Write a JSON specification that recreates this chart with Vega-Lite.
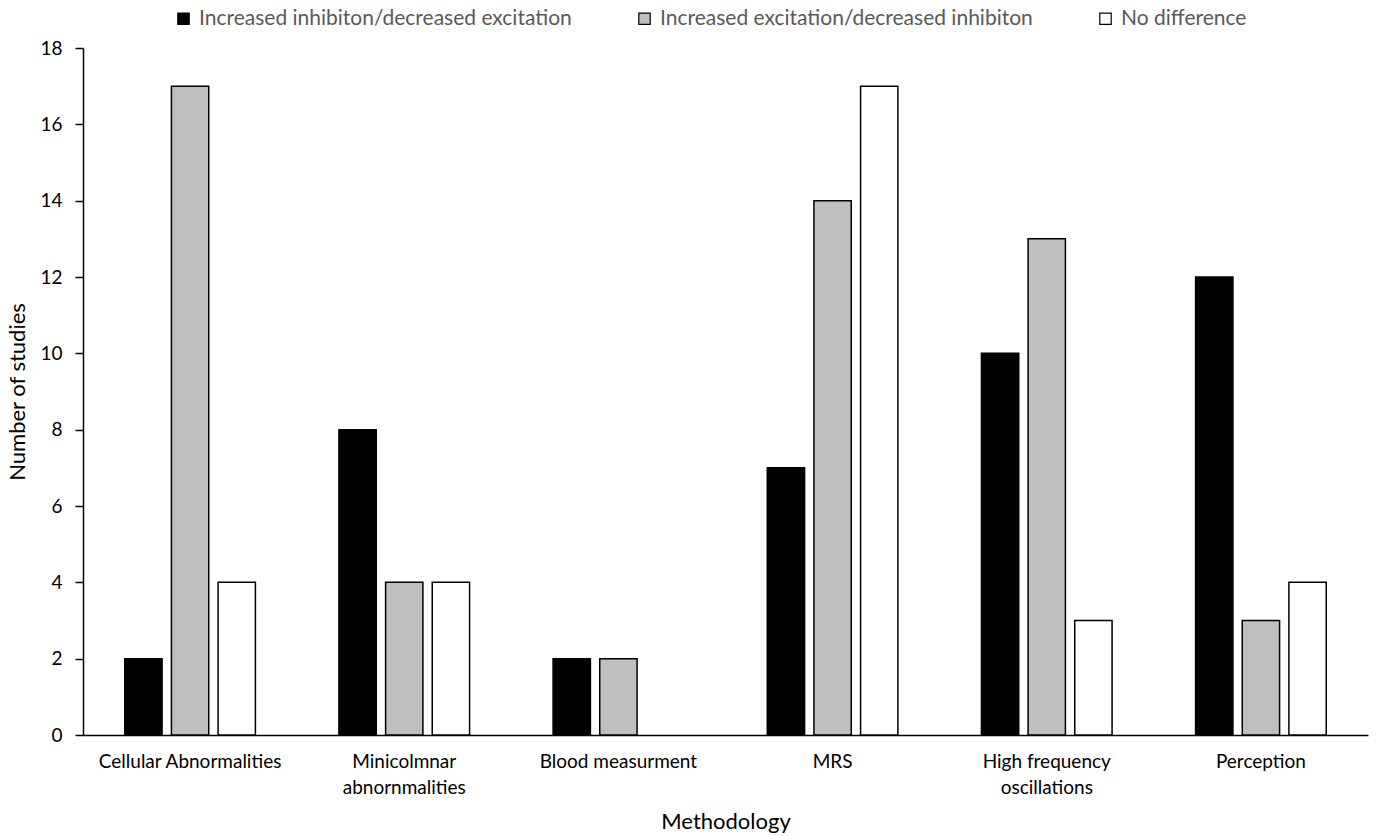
{
  "$schema": "https://vega.github.io/schema/vega-lite/v6.json",
  "width": 1285,
  "height": 687,
  "autosize": {"type": "none"},
  "padding": {"left": 83, "top": 48, "right": 9, "bottom": 101},
  "background": "white",
  "data": {
    "values": [
      {"method": "Cellular Abnormalities", "result": "Increased inhibiton/decreased excitation", "studies": 2},
      {"method": "Cellular Abnormalities", "result": "Increased excitation/decreased inhibiton", "studies": 17},
      {"method": "Cellular Abnormalities", "result": "No difference", "studies": 4},
      {"method": "Minicolmnar abnornmalities", "result": "Increased inhibiton/decreased excitation", "studies": 8},
      {"method": "Minicolmnar abnornmalities", "result": "Increased excitation/decreased inhibiton", "studies": 4},
      {"method": "Minicolmnar abnornmalities", "result": "No difference", "studies": 4},
      {"method": "Blood measurment", "result": "Increased inhibiton/decreased excitation", "studies": 2},
      {"method": "Blood measurment", "result": "Increased excitation/decreased inhibiton", "studies": 2},
      {"method": "Blood measurment", "result": "No difference", "studies": 0},
      {"method": "MRS", "result": "Increased inhibiton/decreased excitation", "studies": 7},
      {"method": "MRS", "result": "Increased excitation/decreased inhibiton", "studies": 14},
      {"method": "MRS", "result": "No difference", "studies": 17},
      {"method": "High frequency oscillations", "result": "Increased inhibiton/decreased excitation", "studies": 10},
      {"method": "High frequency oscillations", "result": "Increased excitation/decreased inhibiton", "studies": 13},
      {"method": "High frequency oscillations", "result": "No difference", "studies": 3},
      {"method": "Perception", "result": "Increased inhibiton/decreased excitation", "studies": 12},
      {"method": "Perception", "result": "Increased excitation/decreased inhibiton", "studies": 3},
      {"method": "Perception", "result": "No difference", "studies": 4}
    ]
  },
  "mark": {"type": "bar", "stroke": "black", "strokeWidth": 1.5},
  "encoding": {
    "x": {
      "field": "method",
      "type": "nominal",
      "sort": null,
      "title": "Methodology",
      "scale": {"paddingInner": 0.39, "paddingOuter": 0.195},
      "axis": {
        "labelAngle": 0,
        "ticks": false,
        "labelPadding": 17,
        "labelFont": "Lato",
        "labelFontSize": 19,
        "labelColor": "black",
        "labelLineHeight": 26,
        "labelLimit": 400,
        "labelOverlap": false,
        "labelExpr": "datum.label == 'Minicolmnar abnornmalities' ? ['Minicolmnar', 'abnornmalities'] : datum.label == 'High frequency oscillations' ? ['High frequency', 'oscillations'] : datum.label",
        "domainColor": "black",
        "domainWidth": 1.5,
        "titleFont": "Lato",
        "titleFontSize": 22,
        "titleFontWeight": "normal",
        "titleColor": "black",
        "titlePadding": 14
      }
    },
    "xOffset": {
      "field": "result",
      "type": "nominal",
      "sort": ["Increased inhibiton/decreased excitation", "Increased excitation/decreased inhibiton", "No difference"],
      "scale": {"paddingInner": 0.2, "paddingOuter": 0}
    },
    "y": {
      "field": "studies",
      "type": "quantitative",
      "title": "Number of studies",
      "scale": {"domain": [0, 18]},
      "axis": {
        "values": [0, 2, 4, 6, 8, 10, 12, 14, 16, 18],
        "grid": false,
        "tickSize": 8,
        "tickColor": "black",
        "tickWidth": 1.5,
        "labelPadding": 13,
        "labelFont": "Lato",
        "labelFontSize": 19,
        "labelColor": "black",
        "domainColor": "black",
        "domainWidth": 1.5,
        "titleFont": "Lato",
        "titleFontSize": 22,
        "titleFontWeight": "normal",
        "titleColor": "black",
        "titlePadding": 10
      }
    },
    "strokeOpacity": {
      "condition": {"test": "datum.studies == 0", "value": 0},
      "value": 1
    },
    "fill": {
      "field": "result",
      "type": "nominal",
      "sort": ["Increased inhibiton/decreased excitation", "Increased excitation/decreased inhibiton", "No difference"],
      "scale": {
        "domain": ["Increased inhibiton/decreased excitation", "Increased excitation/decreased inhibiton", "No difference"],
        "range": ["#000000", "#bfbfbf", "#ffffff"]
      },
      "legend": {
        "title": null,
        "orient": "none",
        "direction": "horizontal",
        "legendX": 90,
        "legendY": -40,
        "symbolType": "square",
        "symbolSize": 130,
        "symbolStrokeColor": "black",
        "symbolStrokeWidth": 1.2,
        "labelFont": "Lato",
        "labelFontSize": 21,
        "labelColor": "#595959",
        "labelOffset": 5,
        "labelLimit": 600,
        "columnPadding": 62,
        "padding": 0
      }
    }
  },
  "config": {"view": {"stroke": null}}
}
